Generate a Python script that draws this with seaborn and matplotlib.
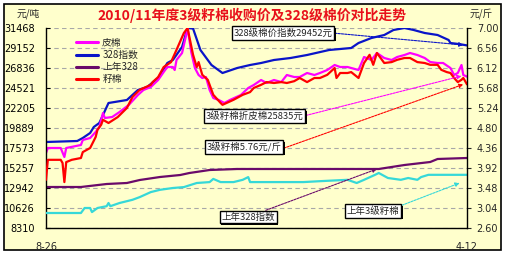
import matplotlib
matplotlib.use("Agg")
import matplotlib.pyplot as plt
import matplotlib.patheffects as pe
from matplotlib.patches import Rectangle
from matplotlib.lines import Line2D
import seaborn as sns
import pandas as pd

# ---------------- data ----------------
x_tick_days = [0, 229]
x_tick_labels = ["8-26", "4-12"]
left_ticks = [8310, 10626, 12942, 15257, 17573, 19889, 22205, 24521, 26836, 29152, 31468]
right_ticks = [2.60, 3.04, 3.48, 3.92, 4.36, 4.80, 5.24, 5.68, 6.12, 6.56, 7.00]

# 皮棉 (元/吨, left axis)
lint_day = [0, 1, 8, 10, 11, 19, 20, 24, 27, 29, 31, 32, 36, 40, 45, 50, 53, 57, 61, 64,
            66, 69, 70, 71, 74, 76, 77, 79, 81, 83, 85, 87, 89, 91, 94, 97, 100, 106, 110, 113,
            117, 120, 124, 128, 131, 135, 138, 142, 146, 149, 153, 157, 160, 164, 166, 170, 173, 177, 180, 184,
            188, 191, 195, 198, 202, 206, 209, 213, 216, 220, 222, 224, 226, 227, 229]
lint_val = [16994, 17573, 17573, 16531, 17573, 17921, 18500, 18731, 19426, 20005,
            21626, 21047, 21163, 21742, 22552, 23710, 24289, 24636, 25447, 26373,
            26952, 26952, 26605, 27763, 28573, 30426, 31468, 28689, 26836, 26026,
            25678, 25794, 24289, 23363, 23131, 22784, 23131, 23710, 24521, 24868,
            25447, 25100, 25447, 25215, 26026, 25794, 25794, 26257, 26026, 26257,
            26605, 27184, 26952, 26952, 26836, 26605, 28110, 27763, 28573, 27994,
            27763, 28110, 28342, 28573, 28342, 27994, 27531, 27415, 27415, 26836,
            26026, 26257, 27184, 26026, 25835]

# 328指数 (元/吨, left axis)
idx_day = [0, 17, 20, 24, 26, 29, 34, 44, 50, 55, 61, 66, 69, 74, 77, 80, 84, 90, 96, 104,
           111, 117, 124, 133, 142, 154, 166, 170, 177, 184, 189, 195, 200, 206, 213, 219, 220, 225, 229]
idx_val = [18268, 18384, 18731, 19310, 20005, 20468, 22784, 23131, 24289, 24636,
           25678, 27415, 27763, 29268, 31468, 31400, 28921, 27184, 26257, 26836,
           27184, 27415, 27763, 27994, 28342, 28921, 29152, 29731, 30310, 30657,
           31236, 31468, 31236, 30889, 30657, 30079, 29731, 29600, 29452]

# 上年328 (元/吨, left axis)
prev328_day = [0, 19, 33, 44, 51, 62, 73, 78, 89, 104, 122, 149, 181, 195, 209, 213, 229]
prev328_val = [13057, 13057, 13405, 13521, 13868, 14215, 14447, 14678, 15026, 15142,
               15142, 15142, 15142, 15605, 15952, 16300, 16415]

# 籽棉 (元/斤, right axis)
seed_day = [0, 1, 8, 9, 10, 11, 14, 19, 20, 24, 27, 28, 30, 31, 34, 39, 44, 47, 51, 57,
            58, 61, 64, 68, 71, 75, 77, 78, 80, 82, 83, 85, 88, 91, 95, 96, 102, 107, 111, 113,
            117, 120, 124, 128, 131, 135, 138, 142, 146, 149, 153, 157, 158, 160, 164, 166, 170, 173, 176, 178,
            180, 184, 188, 191, 195, 198, 202, 206, 209, 213, 215, 218, 220, 222, 224, 226, 227, 229]
seed_val = [3.66, 4.10, 4.10, 4.03, 3.61, 4.05, 4.10, 4.14, 4.27, 4.36,
            4.60, 4.76, 4.87, 4.98, 4.91, 5.04, 5.24, 5.48, 5.64, 5.75,
            5.81, 5.92, 6.14, 6.25, 6.52, 6.89, 7.00, 6.80, 6.41, 6.14,
            6.25, 5.97, 5.86, 5.53, 5.35, 5.31, 5.42, 5.53, 5.59, 5.68,
            5.75, 5.81, 5.79, 5.81, 5.79, 5.83, 5.90, 5.81, 5.90, 5.90,
            5.97, 6.12, 5.90, 6.01, 6.01, 6.03, 5.90, 6.23, 6.41, 6.19,
            6.45, 6.23, 6.25, 6.30, 6.34, 6.34, 6.25, 6.23, 6.19, 6.19,
            6.08, 6.03, 6.01, 5.90, 5.81, 5.86, 5.90, 5.76]

# 上年3级籽棉 (元/斤, right axis)
prevseed_day = [0, 19, 21, 24, 25, 28, 33, 34, 35, 40, 47, 51, 57, 62, 69, 75, 82, 89, 91, 95,
                102, 107, 110, 111, 122, 140, 149, 164, 169, 173, 179, 181, 186, 193, 197, 202, 204, 208, 229]
prevseed_val = [2.93, 2.93, 3.04, 3.04, 2.95, 3.04, 3.08, 3.15, 3.08, 3.15,
                3.22, 3.28, 3.39, 3.44, 3.48, 3.50, 3.59, 3.61, 3.68, 3.61,
                3.61, 3.66, 3.72, 3.61, 3.61, 3.61, 3.63, 3.66, 3.59, 3.66,
                3.77, 3.81, 3.70, 3.66, 3.70, 3.66, 3.72, 3.77, 3.77]

# ---------------- style ----------------
BG = "#FFFFCC"
sns.set_style("white", rc={"axes.facecolor": BG, "figure.facecolor": "white"})
plt.rcParams["font.family"] = ["Noto Sans CJK SC", "DejaVu Sans"]

C_LINT = "#FF00FF"
C_IDX = "#0A14C8"
C_PREV = "#6A0A6A"
C_SEED = "#FF0000"
C_PSEED = "#36D8D8"

fig = plt.figure(figsize=(5.07, 2.54), dpi=100)
frame = Rectangle((4 / 507, 4 / 254), 497 / 507, 246 / 254, transform=fig.transFigure,
                  facecolor=BG, edgecolor="black", linewidth=1.2, zorder=-10)
fig.patches.append(frame)

ax = fig.add_axes([46 / 507, 26 / 254, 421 / 507, 200 / 254])
ax.set_facecolor(BG)
ax2 = ax.twinx()

lw = 1.6
df_lint = pd.DataFrame({"day": lint_day, "v": lint_val})
df_idx = pd.DataFrame({"day": idx_day, "v": idx_val})
df_prev = pd.DataFrame({"day": prev328_day, "v": prev328_val})
df_seed = pd.DataFrame({"day": seed_day, "v": seed_val})
df_pseed = pd.DataFrame({"day": prevseed_day, "v": prevseed_val})

sns.lineplot(data=df_prev, x="day", y="v", ax=ax, color=C_PREV, lw=lw, legend=False)
sns.lineplot(data=df_idx, x="day", y="v", ax=ax, color=C_IDX, lw=lw, legend=False)
sns.lineplot(data=df_lint, x="day", y="v", ax=ax, color=C_LINT, lw=lw, legend=False)
sns.lineplot(data=df_pseed, x="day", y="v", ax=ax2, color=C_PSEED, lw=lw, legend=False)
sns.lineplot(data=df_seed, x="day", y="v", ax=ax2, color=C_SEED, lw=lw, legend=False)

ax.set_xlim(0, 229)
ax.set_ylim(left_ticks[0], left_ticks[-1])
ax2.set_ylim(right_ticks[0], right_ticks[-1])
ax.set_yticks(left_ticks)
ax.set_yticklabels([str(t) for t in left_ticks])
ax2.set_yticks(right_ticks)
ax2.set_yticklabels([f"{t:.2f}" for t in right_ticks])
ax.set_xticks(x_tick_days)
ax.set_xticklabels(x_tick_labels)
for a in (ax, ax2):
    a.set_xlabel("")
    a.set_ylabel("")

ax.yaxis.grid(True, color="#A8A8A8", linestyle=(0, (4, 3)), linewidth=0.8)
ax.set_axisbelow(True)
ax.tick_params(axis="y", which="both", direction="in", length=3, labelsize=7, pad=8,
               colors="black", left=True)
ax.tick_params(axis="x", length=0, labelsize=7, pad=10)
ax2.tick_params(axis="y", direction="out", length=3, labelsize=7, pad=4, right=True)
for lab in ax.get_yticklabels() + ax2.get_yticklabels() + ax.get_xticklabels():
    lab.set_family("DejaVu Sans")

for s in ("top",):
    ax.spines[s].set_visible(False)
    ax2.spines[s].set_visible(False)
for s in ("left", "bottom"):
    ax.spines[s].set_color("black"); ax.spines[s].set_linewidth(1)
    ax2.spines[s].set_visible(False)
ax.spines["right"].set_visible(False)
ax2.spines["right"].set_color("black"); ax2.spines["right"].set_linewidth(1)

# legend
handles = [Line2D([], [], color=C_LINT, lw=2.2), Line2D([], [], color=C_IDX, lw=2.2),
           Line2D([], [], color=C_PREV, lw=2.2), Line2D([], [], color=C_SEED, lw=2.2)]
labels = ["皮棉", "328指数", "上年328", "籽棉"]
ax2.legend(handles, labels, loc="upper left", bbox_to_anchor=(0.055, 0.985), frameon=False,
           fontsize=7, handlelength=2.3, handletextpad=0.4, labelspacing=0.22, borderpad=0.2)

# title and units
fig.text(252 / 507, 1 - 15 / 254, "2010/11年度3级籽棉收购价及328级棉价对比走势", color="#E8101B",
         fontsize=10, fontweight="bold", ha="center", va="center")
fig.text(28 / 507, 1 - 14 / 254, "元/吨", fontsize=7, ha="center", va="center")
fig.text(481 / 507, 1 - 14 / 254, "元/斤", fontsize=7, ha="center", va="center")

# annotations
def note(a, text, xy, xytext, color, relpos):
    t = a.annotate(text, xy=xy, xycoords="data", xytext=xytext, textcoords="axes fraction",
                   fontsize=6.8, ha="center", va="center",
                   bbox=dict(boxstyle="square,pad=0.18", fc="white", ec="black", lw=1),
                   arrowprops=dict(arrowstyle="-|>", color=color, lw=0.8, linestyle=(0, (2, 1)),
                                   mutation_scale=6, shrinkA=0, shrinkB=0, relpos=relpos),
                   zorder=10)
    t.get_bbox_patch().set_path_effects([pe.SimplePatchShadow(offset=(1.2, -1.2),
                                                              shadow_rgbFace="black", alpha=1),
                                         pe.Normal()])
    return t

note(ax2, "328级棉价指数29452元", (227, 7.00 - (45 - 28) * 0.022), (0.563, 0.975), C_IDX, (1, 0.5))
note(ax2, "3级籽棉折皮棉25835元", (226, 7.00 - (76 - 28) * 0.022), (0.496, 0.56), C_LINT, (1, 0.5))
note(ax2, "3级籽棉5.76元/斤", (227, 5.76), (0.470, 0.405), C_SEED, (1, 0.3))
note(ax2, "上年328指数", (180, 7.00 - (169 - 28) * 0.022), (0.480, 0.055), C_PREV, (0.72, 1))
note(ax2, "上年3级籽棉", (225, 3.59), (0.777, 0.085), C_PSEED, (1, 1))

fig.savefig("out.png", dpi=100, facecolor="white")
